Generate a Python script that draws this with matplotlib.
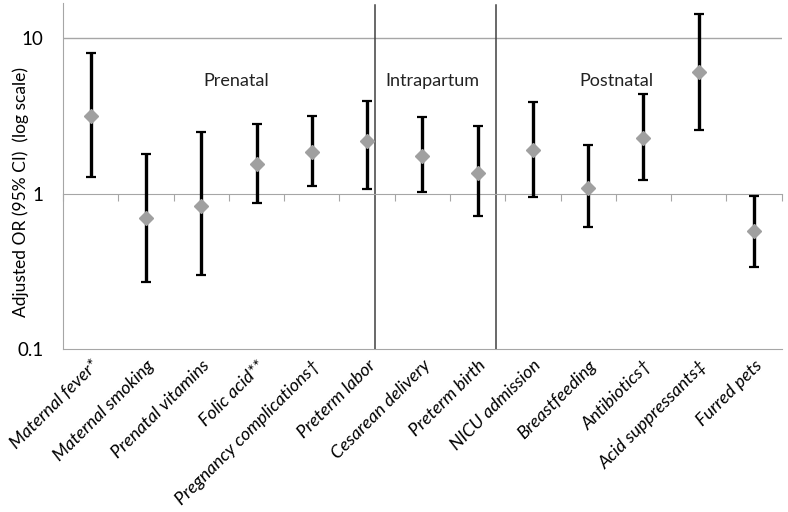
import numpy as np
import matplotlib
matplotlib.use("Agg")
import matplotlib.pyplot as plt

categories = ["Maternal fever*", "Maternal smoking", "Prenatal vitamins", "Folic acid**",
              "Pregnancy complications\u2020", "Preterm labor", "Cesarean delivery",
              "Preterm birth", "NICU admission", "Breastfeeding", "Antibiotics\u2020",
              "Acid suppressants\u2021", "Furred pets"]
odds_ratio = [3.18, 0.70, 0.84, 1.56, 1.85, 2.20, 1.75, 1.37, 1.92, 1.09, 2.28, 6.05, 0.58]
ci_lower = [1.29, 0.27, 0.30, 0.87, 1.13, 1.08, 1.02, 0.72, 0.95, 0.61, 1.22, 2.59, 0.34]
ci_upper = [8.1, 1.80, 2.49, 2.82, 3.16, 3.96, 3.11, 2.72, 3.88, 2.05, 4.41, 14.3, 0.97]
group_labels = ["Prenatal", "Intrapartum", "Postnatal"]
group_label_x = [2.64, 6.18, 9.51]
group_dividers = [5.14, 7.34]
yticks = [0.1, 1, 10]
ytick_labels = ["0.1", "1", "10"]

plt.rcParams['font.family'] = ['Lato', 'DejaVu Sans']

fig = plt.figure(figsize=(7.88, 5.12), dpi=100)
ax = fig.add_axes([0.080, 0.318, 0.912, 0.676])

x = np.arange(len(categories))
or_ = np.array(odds_ratio)
lo = np.array(ci_lower)
hi = np.array(ci_upper)

ax.set_yscale('log')
ax.set_ylim(0.1, 16.9)
ax.set_xlim(-0.5, len(categories) - 0.5)

# gridline at 10
ax.axhline(10, color='#a6a6a6', lw=1.0, zorder=1)

# dividers
for d in group_dividers:
    ax.axvline(d, ymin=0, ymax=0.995, color='#404040', lw=1.1, zorder=2)

ax.errorbar(x, or_, yerr=[or_ - lo, hi - or_], fmt='none', ecolor='black',
            elinewidth=2.4, capsize=3.5, capthick=1.6, zorder=3)
ax.plot(x, or_, linestyle='none', marker='D', markersize=7.5, color='#a0a0a0',
        markeredgecolor='#a0a0a0', zorder=4)

for lab, gx in zip(group_labels, group_label_x):
    ax.text(gx, 5.3, lab, ha='center', va='center', fontsize=13, color='#222222')

# horizontal axis crossing at 1 with tick marks at category boundaries
for s in ['top', 'right']:
    ax.spines[s].set_visible(False)
ax.spines['bottom'].set_position(('data', 1))
ax.spines['bottom'].set_color('#a6a6a6')
ax.spines['left'].set_color('#a6a6a6')
ax.set_xticks(np.arange(-0.5, len(categories) + 0.5, 1.0))
ax.set_xticklabels([])
ax.tick_params(axis='x', which='major', direction='out', length=5, color='#a6a6a6')

ax.set_yticks(yticks)
ax.set_yticklabels(ytick_labels, fontsize=13.5)
ax.yaxis.set_minor_locator(matplotlib.ticker.NullLocator())
ax.tick_params(axis='y', length=0, pad=14)
ax.set_ylabel("Adjusted OR (95% CI)  (log scale)", fontsize=12.5)
ax.yaxis.set_label_coords(-0.047, 0.455)

# category labels at the bottom
sec = ax.secondary_xaxis(0.0)
sec.set_xticks(x)
sec.set_xticklabels(categories, rotation=45, ha='right', rotation_mode='anchor',
                    fontsize=13, style='italic')
sec.tick_params(length=0, pad=6)
sec.spines['bottom'].set_color('#a6a6a6')

fig.savefig("out.png", dpi=100)
